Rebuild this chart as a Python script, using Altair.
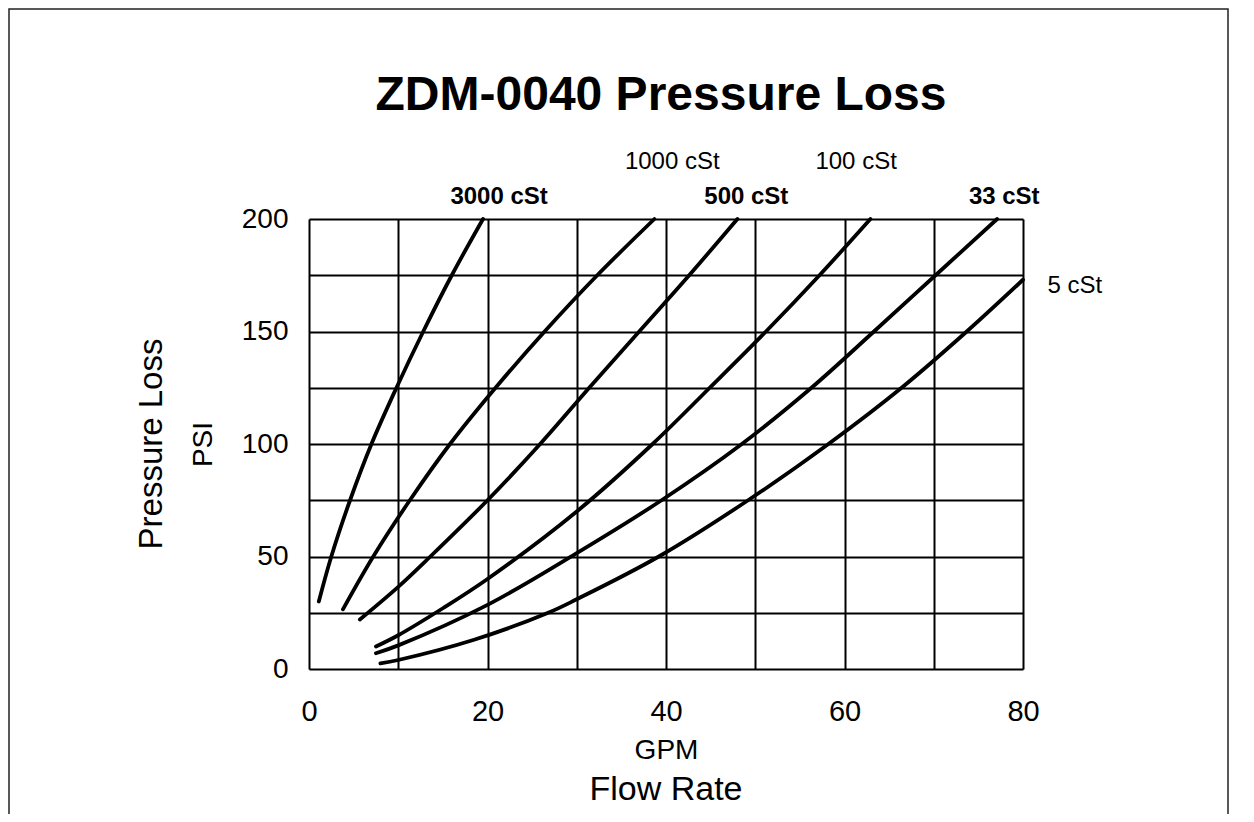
import altair as alt
import pandas as pd

FONT = "Liberation Sans"

title_text = "ZDM-0040 Pressure Loss"

series_names = ["3000 cSt", "1000 cSt", "500 cSt", "100 cSt", "33 cSt", "5 cSt"]

gpm_3000 = [1.1, 2.5, 4.6, 7.0, 9.8, 12.8, 16.0, 19.5]
psi_3000 = [30, 50, 75, 100, 125, 150, 175, 200]

gpm_1000 = [3.8, 7.2, 11.3, 15.8, 20.9, 26.4, 32.3, 38.7]
psi_1000 = [26.5, 50, 75, 100, 125, 150, 175, 200]

gpm_500 = [5.7, 10.0, 13.6, 20.0, 25.9, 31.4, 37.0, 42.6, 48.0]
psi_500 = [22, 36.5, 50, 75, 100, 125, 150, 175, 200]

gpm_100 = [7.5, 10.0, 15.0, 20.0, 30.0, 38.5, 44.9, 51.2, 57.2, 62.9]
psi_100 = [10, 15, 27, 40, 70, 100, 125, 150, 175, 200]

gpm_33 = [7.5, 10.0, 20.0, 30.0, 39.5, 48.5, 56.3, 63.3, 70.2, 77.1]
psi_33 = [7, 10.5, 28.5, 51.5, 75, 100, 125, 150, 175, 200]

gpm_5 = [8.0, 10.0, 18.5, 26.8, 30.0, 39.2, 49.2, 58.2, 66.4, 73.7, 80.0]
psi_5 = [2.5, 4, 13, 25, 31, 50, 75, 100, 125, 150, 173]

# curve label anchors (data units) and weights
label_gpm = [21.3, 40.7, 49.0, 61.3, 77.9, 85.8]
label_psi = [209.8, 225.3, 209.8, 225.3, 209.8, 170.2]
label_bold = [True, False, True, False, True, False]

x_grid = list(range(0, 81, 10))
y_grid = list(range(0, 201, 25))

all_gpm = [gpm_3000, gpm_1000, gpm_500, gpm_100, gpm_33, gpm_5]
all_psi = [psi_3000, psi_1000, psi_500, psi_100, psi_33, psi_5]

rows = []
for name, gs, ps in zip(series_names, all_gpm, all_psi):
    for g, p in zip(gs, ps):
        rows.append({"series": name, "gpm": g, "psi": p})
curves = pd.DataFrame(rows)

labels = pd.DataFrame({"series": series_names, "gpm": label_gpm,
                       "psi": label_psi, "bold": label_bold})

xscale = alt.Scale(domain=[0, 80], nice=False, zero=False)
yscale = alt.Scale(domain=[0, 200], nice=False, zero=False)

x_axis = alt.Axis(values=x_grid, labelExpr="datum.value % 20 == 0 ? datum.label : ''",
                  ticks=False, domain=False, grid=True, gridColor="#000", gridWidth=2,
                  gridOpacity=1, labelFontSize=29, labelFont=FONT, labelColor="#000",
                  labelPadding=28, labelFlush=False, title="GPM", titleFontSize=28,
                  titleFont=FONT, titleFontWeight="normal", titleColor="#000",
                  titlePadding=10)
y_axis = alt.Axis(values=y_grid, labelExpr="datum.value % 50 == 0 ? datum.label : ''",
                  ticks=False, domain=False, grid=True, gridColor="#000", gridWidth=2,
                  gridOpacity=1, labelFontSize=28, labelFont=FONT, labelColor="#000",
                  labelPadding=21, labelFlush=False, title="PSI", titleFontSize=28,
                  titleFont=FONT, titleFontWeight="normal", titleColor="#000",
                  titlePadding=24)

lines = alt.Chart(curves).mark_line(color="#000", strokeWidth=3.8,
                                    interpolate="catmull-rom", strokeCap="round").encode(
    x=alt.X("gpm:Q", scale=xscale, axis=x_axis),
    y=alt.Y("psi:Q", scale=yscale, axis=y_axis),
    detail="series:N",
)

lab_bold = alt.Chart(labels).transform_filter("datum.bold").mark_text(
    font=FONT, fontSize=24, fontWeight="bold", color="#000",
    align="center", baseline="middle").encode(
    x=alt.X("gpm:Q", scale=xscale), y=alt.Y("psi:Q", scale=yscale), text="series:N")

lab_reg = alt.Chart(labels).transform_filter("!datum.bold").mark_text(
    font=FONT, fontSize=24, fontWeight="normal", color="#000",
    align="center", baseline="middle").encode(
    x=alt.X("gpm:Q", scale=xscale), y=alt.Y("psi:Q", scale=yscale), text="series:N")

main_title = alt.Chart(pd.DataFrame({"t": [title_text]})).mark_text(
    font=FONT, fontSize=48, fontWeight="bold", color="#000",
    align="center", baseline="alphabetic").encode(
    x=alt.value(352), y=alt.value(-109), text="t:N")

ptitle = alt.Chart(pd.DataFrame({"t": ["Pressure Loss"]})).mark_text(
    font=FONT, fontSize=33, color="#000", angle=270, align="center", baseline="middle").encode(
    x=alt.value(-157), y=alt.value(225), text="t:N")

ftitle = alt.Chart(pd.DataFrame({"t": ["Flow Rate"]})).mark_text(
    font=FONT, fontSize=34, color="#000", align="center", baseline="middle").encode(
    x=alt.value(357), y=alt.value(571), text="t:N")

frame = alt.Chart(pd.DataFrame({"f": [0]})).mark_rect(
    fillOpacity=0, stroke="#222", strokeWidth=1.5).encode(
    x=alt.value(-300), x2=alt.value(919), y=alt.value(-210), y2=alt.value(640))

chart = alt.layer(frame, lines, lab_bold, lab_reg, main_title, ptitle, ftitle).properties(
    width=714, height=450,
    autosize=alt.AutoSizeParams(type="none"),
    padding={"left": 301, "top": 211, "right": 223, "bottom": 145},
).configure_view(stroke="#000", strokeWidth=2).configure(background="white")

chart.save("out.html", embed_options={"renderer": "svg", "actions": False})
